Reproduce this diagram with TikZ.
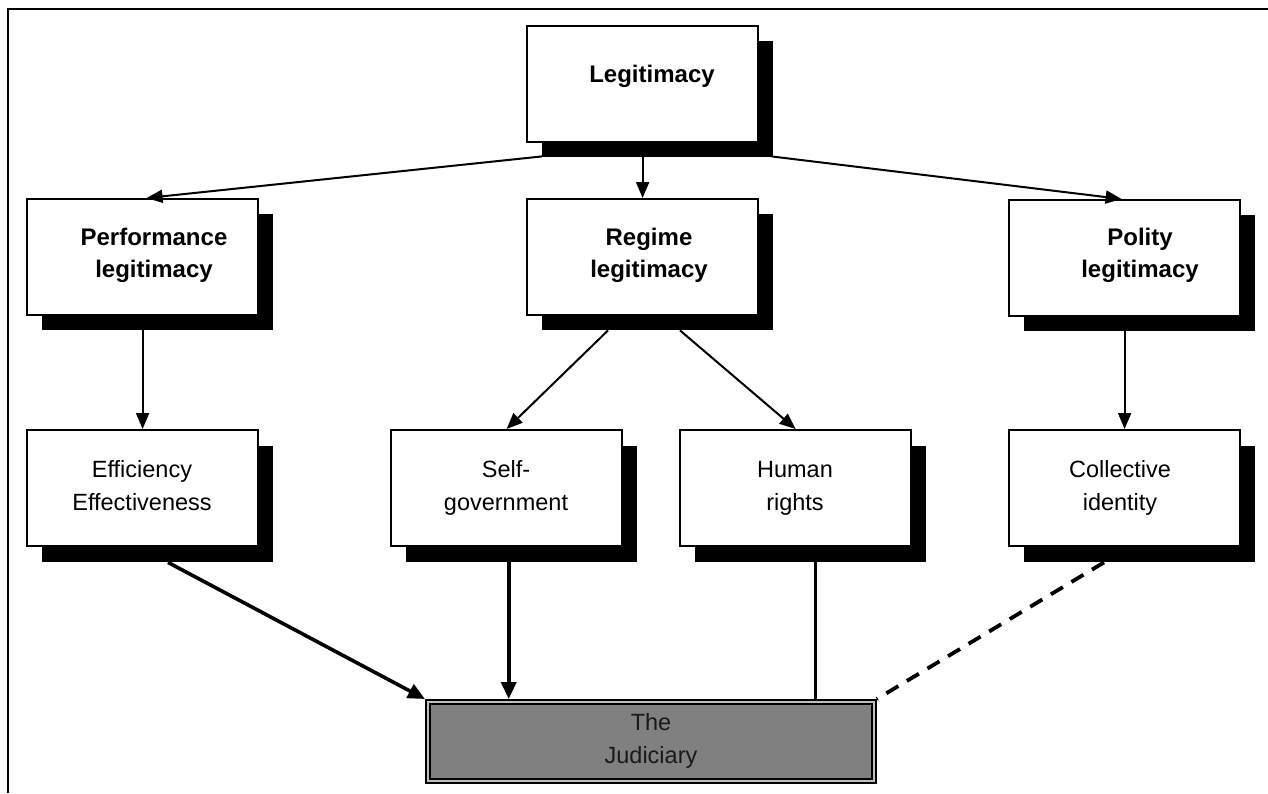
\documentclass[tikz,border=0pt]{standalone}
\usepackage{fontspec}
\setmainfont{Liberation Sans}
\usetikzlibrary{arrows.meta,calc}
\begin{document}
\begin{tikzpicture}[x=1pt,y=-1pt,
  box/.style={draw=black,line width=2.2pt,fill=white,minimum width=231pt,minimum height=116pt,inner sep=0pt,anchor=north west},
  shadowbox/.style={fill=black,minimum width=231pt,minimum height=116pt,inner sep=0pt,anchor=north west},
  btext/.style={align=center,font=\fontsize{24}{32}\selectfont\bfseries,inner sep=0pt},
  rtext/.style={align=center,font=\fontsize{23.5}{33}\selectfont,inner sep=0pt},
  arrA/.style={line width=2pt,-{Triangle[length=16pt,width=13pt]}},
  arrB/.style={line width=3.6pt,-{Triangle[length=17pt,width=15pt]}},
  plainB/.style={line width=3.2pt},
  dashB/.style={line width=3.8pt,dash pattern=on 14pt off 10pt},
]
\useasboundingbox (0,0) rectangle (1268,793);
\draw[line width=2.8pt] (8,793) -- (8,9) -- (1268,9);

% shadows
\node[shadowbox] (legS)  at (542,41) {};
\node[shadowbox] (perfS) at (42,214) {};
\node[shadowbox] (regS)  at (542,214) {};
\node[shadowbox] (polS)  at (1024,215) {};
\node[shadowbox] (effS)  at (42,446) {};
\node[shadowbox] (selfS) at (406,446) {};
\node[shadowbox] (humS)  at (695,446) {};
\node[shadowbox] (colS)  at (1024,446) {};

% boxes
\node[box] (leg)  at (526,25) {};
\node[box] (perf) at (26,198) {};
\node[box] (reg)  at (526,198) {};
\node[box] (pol)  at (1008,199) {};
\node[box] (eff)  at (26,429) {};
\node[box] (self) at (390,429) {};
\node[box] (hum)  at (679,429) {};
\node[box] (col)  at (1008,429) {};

% texts
\node[btext] (legT)  at (652,76) {Legitimacy};
\node[btext] (perfT) at (154,255) {Performance\\legitimacy};
\node[btext] (regT)  at (649,255) {Regime\\legitimacy};
\node[btext] (polT)  at (1140,255) {Polity\\legitimacy};
\node[rtext] (effT)  at (142,486) {Efficiency\\Effectiveness};
\node[rtext] (selfT) at (506,488) {Self-\\government};
\node[rtext] (humT)  at (795,488) {Human\\rights};
\node[rtext] (colT)  at (1120,488) {Collective\\identity};

% judiciary
\node[draw=black,line width=1.8pt,fill=black!25,minimum width=450pt,minimum height=83pt,inner sep=0pt,anchor=north west] (jud) at (425,699) {};
\draw[line width=1.4pt,fill=black!50] ($(jud.north west)+(5,5)$) rectangle ($(jud.south east)+(-5,-5)$);
\node[rtext,text=black!90] (judT) at (651,741) {The\\Judiciary};

% connectors, upper
\draw[arrA] ($(legS.south west)+(0,-1)$) -- ($(perf.north)+(4,0)$);
\draw[arrA] (leg.south |- legS.south) -- (reg.north);
\draw[arrA] ($(legS.south east)+(-2,-1)$) -- ($(pol.north)+(-3,0)$);
\draw[arrA] (perf.south |- perfS.south) -- (eff.north);
\draw[arrA] ($(regS.south west)+(66,0)$) -- (self.north);
\draw[arrA] ($(regS.south west)+(138,0)$) -- (hum.north);
\draw[arrA] (pol.south |- polS.south) -- (col.north);

% connectors, lower
\draw[arrB] ($(effS.south west)+(126,0)$) -- (jud.north west);
\coordinate (selfX) at ($(selfS.south)+(-13,0)$);
\draw[arrB] (selfX) -- (selfX |- jud.north);
\coordinate (humX) at ($(humS.south)+(4.5,0)$);
\draw[plainB] (humX) -- (humX |- jud.north);
\draw[dashB] ($(colS.south west)+(80,0)$) -- (jud.north east);
\end{tikzpicture}
\end{document}
